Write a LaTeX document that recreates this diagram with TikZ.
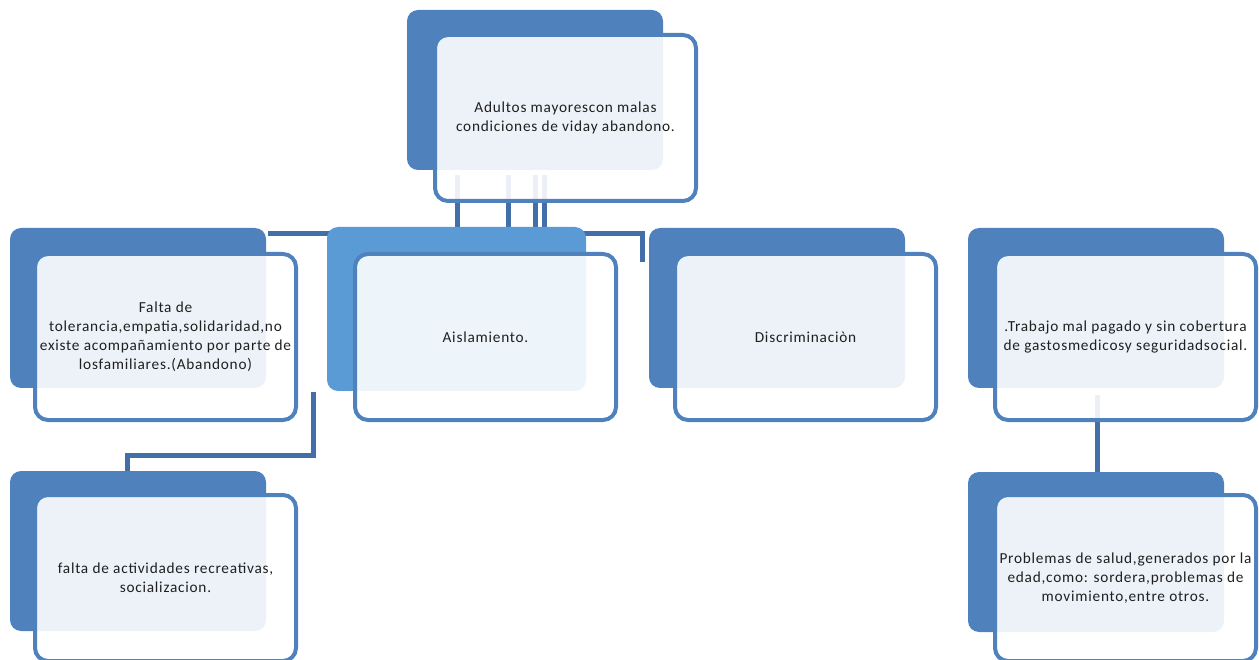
\documentclass[tikz,border=0pt]{standalone}
\usepackage{fontspec}
\setmainfont{Carlito}[LetterSpace=5]
\definecolor{bk}{HTML}{4F81BD}
\definecolor{bkl}{HTML}{5B9BD5}
\definecolor{cn}{HTML}{426FA8}
\begin{document}
\begin{tikzpicture}[x=1pt,y=-1pt,
 back/.style={fill=bk, draw=none, rounded corners=11pt, inner sep=0pt, outer sep=0pt, anchor=north west, minimum width=256pt, minimum height=160pt},
 front/.style={draw=bk, line width=4pt, fill=white, fill opacity=0.9, text opacity=1, rounded corners=13pt, inner sep=0pt, outer sep=0pt, anchor=north west, minimum width=261pt, minimum height=166pt, align=center, font=\fontsize{15.3}{19}\selectfont, text=black!88},
 conn/.style={draw=cn, line width=5pt}]
\useasboundingbox (0,0) rectangle (1259,660);
% connector points
\coordinate (t1a) at (457,175); \coordinate (t1b) at (457,234);
\coordinate (t2a) at (508,175); \coordinate (t2b) at (508,234);
\coordinate (t3a) at (535,175); \coordinate (t3b) at (535,234);
\coordinate (t4a) at (544,175); \coordinate (t4b) at (544,234);
\coordinate (hl) at (268,234); \coordinate (hr) at (642,234); \coordinate (hd) at (642,262);
\coordinate (l1) at (313,392); \coordinate (l2) at (313,455); \coordinate (l3) at (127,455); \coordinate (l4) at (127,472);
\coordinate (r1) at (1097,395); \coordinate (r2) at (1097,472);
% connectors (behind boxes)
\draw[conn] (t1a) -- (t1b);
\draw[conn] (t2a) -- (t2b);
\draw[conn] (t3a) -- (t3b);
\draw[conn] (t4a) -- (t4b);
\draw[conn] (hl) -- (hr) -- (hd);
\draw[conn] (l1) -- (l2) -- (l3) -- (l4);
\draw[conn] (r1) -- (r2);
% back boxes
\node[back] (tb) at (407,10) {};
\node[back] (lb) at (10,228) {};
\node[back, fill=bkl, minimum width=259pt, minimum height=164pt] (ab) at (327,227) {};
\node[back] (db) at (649,228) {};
\node[back] (rb) at (968,228) {};
\node[back] (lbb) at (10,471) {};
\node[back] (rbb) at (968,472) {};
% front boxes
\node[front] (tf) at (435,35) {Adultos mayorescon malas\\condiciones de viday abandono.};
\node[front] (lf) at (35,254) {Falta de\\tolerancia,empatia,solidaridad,no\\existe acompañamiento por parte de\\losfamiliares.(Abandono)};
\node[front] (af) at (355,254) {Aislamiento.};
\node[front] (df) at (675,254) {Discriminaciòn};
\node[front] (rf) at (995,254) {.Trabajo mal pagado y sin cobertura\\de gastosmedicosy seguridadsocial.};
\node[front] (lbf) at (35,495) {falta de actividades recreativas,\\socializacion.};
\node[front] (rbf) at (995,495) {Problemas de salud,generados por la\\edad,como: sordera,problemas de\\movimiento,entre otros.};
\end{tikzpicture}
\end{document}
